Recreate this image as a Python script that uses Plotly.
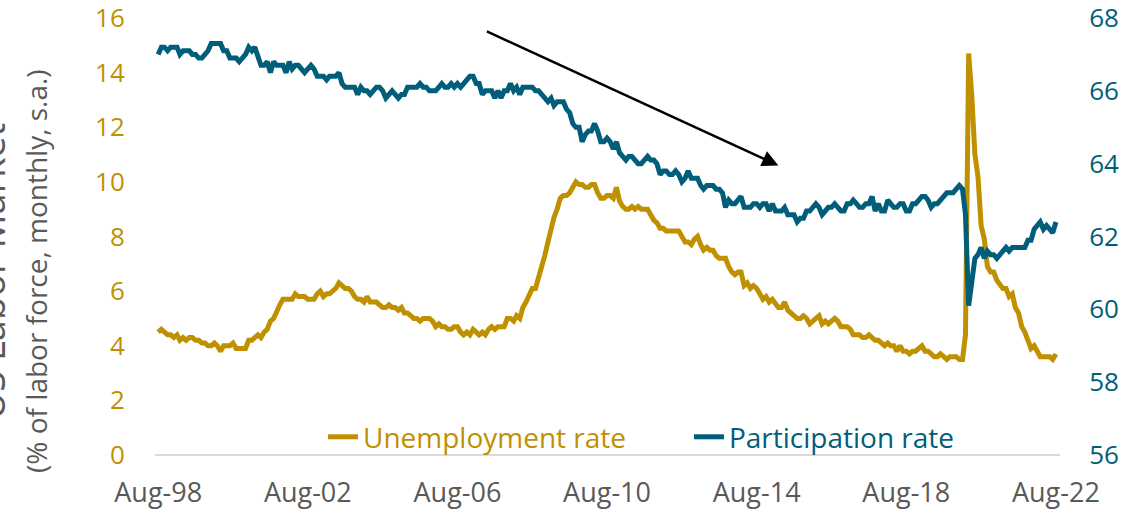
import pandas as pd
import plotly.graph_objects as go

# Monthly data, Aug-1998 .. Aug-2022
unemployment = [
    4.5, 4.6, 4.5, 4.4, 4.4,                                        # 1998 Aug-Dec
    4.3, 4.4, 4.2, 4.3, 4.2, 4.3, 4.3, 4.2, 4.2, 4.1, 4.1, 4.0,     # 1999
    4.0, 4.1, 4.0, 3.8, 4.0, 4.0, 4.0, 4.1, 3.9, 3.9, 3.9, 3.9,     # 2000
    4.2, 4.2, 4.3, 4.4, 4.3, 4.5, 4.6, 4.9, 5.0, 5.3, 5.5, 5.7,     # 2001
    5.7, 5.7, 5.7, 5.9, 5.8, 5.8, 5.8, 5.7, 5.7, 5.7, 5.9, 6.0,     # 2002
    5.8, 5.9, 5.9, 6.0, 6.1, 6.3, 6.2, 6.1, 6.1, 6.0, 5.8, 5.7,     # 2003
    5.7, 5.6, 5.8, 5.6, 5.6, 5.6, 5.5, 5.4, 5.4, 5.5, 5.4, 5.4,     # 2004
    5.3, 5.4, 5.2, 5.2, 5.1, 5.0, 5.0, 4.9, 5.0, 5.0, 5.0, 4.9,     # 2005
    4.7, 4.8, 4.7, 4.7, 4.6, 4.6, 4.7, 4.7, 4.5, 4.4, 4.5, 4.4,     # 2006
    4.6, 4.5, 4.4, 4.5, 4.4, 4.6, 4.7, 4.6, 4.7, 4.7, 4.7, 5.0,     # 2007
    5.0, 4.9, 5.1, 5.0, 5.4, 5.6, 5.8, 6.1, 6.1, 6.5, 6.8, 7.3,     # 2008
    7.8, 8.3, 8.7, 9.0, 9.4, 9.5, 9.5, 9.6, 9.8, 10.0, 9.9, 9.9,    # 2009
    9.8, 9.8, 9.9, 9.9, 9.6, 9.4, 9.4, 9.5, 9.5, 9.4, 9.8, 9.3,     # 2010
    9.1, 9.0, 9.0, 9.1, 9.0, 9.1, 9.0, 9.0, 9.0, 8.8, 8.6, 8.5,     # 2011
    8.3, 8.3, 8.2, 8.2, 8.2, 8.2, 8.2, 8.0, 7.8, 7.8, 7.7, 7.9,     # 2012
    8.0, 7.7, 7.5, 7.6, 7.5, 7.5, 7.3, 7.2, 7.2, 7.2, 6.9, 6.7,     # 2013
    6.6, 6.7, 6.7, 6.2, 6.3, 6.1, 6.2, 6.1, 5.9, 5.7, 5.8, 5.6,     # 2014
    5.7, 5.5, 5.4, 5.4, 5.6, 5.3, 5.2, 5.1, 5.0, 5.0, 5.1, 5.0,     # 2015
    4.8, 4.9, 5.0, 5.1, 4.8, 4.9, 4.8, 4.9, 5.0, 4.9, 4.7, 4.7,     # 2016
    4.7, 4.6, 4.4, 4.4, 4.4, 4.3, 4.3, 4.4, 4.3, 4.2, 4.2, 4.1,     # 2017
    4.0, 4.1, 4.0, 4.0, 3.8, 4.0, 3.8, 3.8, 3.7, 3.8, 3.8, 3.9,     # 2018
    4.0, 3.8, 3.8, 3.7, 3.6, 3.6, 3.7, 3.6, 3.5, 3.6, 3.6, 3.6,     # 2019
    3.5, 3.5, 4.4, 14.7, 13.2, 11.0, 10.2, 8.4, 7.9, 6.9, 6.7, 6.7, # 2020
    6.4, 6.2, 6.1, 6.1, 5.8, 5.9, 5.4, 5.2, 4.7, 4.5, 4.2, 3.9,     # 2021
    4.0, 3.8, 3.6, 3.6, 3.6, 3.6, 3.5, 3.7,                         # 2022 Jan-Aug
]

participation = [
    67.0, 67.2, 67.2, 67.1, 67.2,                                               # 1998
    67.2, 67.2, 67.0, 67.1, 67.1, 67.1, 67.0, 67.0, 66.9, 66.9, 67.0, 67.1,     # 1999
    67.3, 67.3, 67.3, 67.3, 67.1, 67.1, 66.9, 66.9, 66.9, 66.8, 66.9, 67.0,     # 2000
    67.2, 67.1, 67.2, 66.9, 66.7, 66.7, 66.8, 66.5, 66.8, 66.7, 66.7, 66.7,     # 2001
    66.5, 66.8, 66.6, 66.7, 66.7, 66.6, 66.5, 66.6, 66.7, 66.6, 66.4, 66.4,     # 2002
    66.4, 66.3, 66.4, 66.4, 66.4, 66.5, 66.2, 66.1, 66.1, 66.1, 66.1, 65.9,     # 2003
    66.1, 66.0, 66.0, 65.9, 66.0, 66.1, 66.1, 66.0, 65.8, 65.9, 66.0, 65.9,     # 2004
    65.8, 65.9, 65.9, 66.1, 66.1, 66.1, 66.1, 66.2, 66.1, 66.1, 66.0, 66.0,     # 2005
    66.0, 66.1, 66.2, 66.1, 66.1, 66.2, 66.1, 66.2, 66.1, 66.2, 66.3, 66.4,     # 2006
    66.4, 66.2, 66.2, 65.9, 66.0, 66.0, 66.0, 65.8, 66.0, 65.8, 66.0, 66.0,     # 2007
    66.2, 66.0, 66.1, 65.9, 66.1, 66.1, 66.1, 66.1, 66.0, 66.0, 65.9, 65.8,     # 2008
    65.7, 65.8, 65.6, 65.7, 65.7, 65.7, 65.5, 65.4, 65.1, 65.0, 65.0, 64.6,     # 2009
    64.8, 64.9, 64.9, 65.1, 64.9, 64.6, 64.6, 64.7, 64.6, 64.4, 64.6, 64.3,     # 2010
    64.2, 64.1, 64.2, 64.2, 64.1, 64.0, 64.0, 64.1, 64.2, 64.1, 64.1, 64.0,     # 2011
    63.7, 63.8, 63.8, 63.7, 63.7, 63.8, 63.7, 63.5, 63.6, 63.8, 63.6, 63.6,     # 2012
    63.6, 63.4, 63.3, 63.4, 63.4, 63.4, 63.3, 63.3, 63.2, 62.8, 63.0, 62.9,     # 2013
    62.9, 63.0, 63.1, 62.8, 62.8, 62.8, 62.9, 62.9, 62.8, 62.9, 62.9, 62.7,     # 2014
    62.9, 62.7, 62.7, 62.7, 62.8, 62.6, 62.6, 62.6, 62.4, 62.5, 62.5, 62.7,     # 2015
    62.7, 62.8, 62.9, 62.8, 62.6, 62.7, 62.8, 62.8, 62.9, 62.8, 62.7, 62.7,     # 2016
    62.9, 62.9, 63.0, 62.9, 62.8, 62.8, 62.9, 62.9, 63.1, 62.7, 62.9, 62.7,     # 2017
    62.7, 63.0, 62.9, 62.8, 62.8, 62.9, 62.9, 62.7, 62.7, 62.9, 62.9, 63.0,     # 2018
    63.1, 63.1, 63.0, 62.8, 62.9, 62.9, 63.0, 63.1, 63.2, 63.2, 63.2, 63.3,     # 2019
    63.4, 63.3, 62.6, 60.1, 60.7, 61.4, 61.5, 61.7, 61.4, 61.6, 61.5, 61.5,     # 2020
    61.4, 61.5, 61.6, 61.7, 61.6, 61.7, 61.7, 61.7, 61.7, 61.7, 61.9, 61.9,     # 2021
    62.2, 62.3, 62.4, 62.2, 62.3, 62.2, 62.1, 62.4,                             # 2022
]

months = pd.date_range("1998-08-01", periods=len(unemployment), freq="MS")

tick_dates = ["1998-08-01", "2002-08-01", "2006-08-01", "2010-08-01",
              "2014-08-01", "2018-08-01", "2022-08-01"]
tick_labels = ["Aug-98", "Aug-02", "Aug-06", "Aug-10", "Aug-14", "Aug-18", "Aug-22"]

GOLD = "#BF9000"
TEAL = "#005E7A"
GREY = "#595959"
FONT = "Open Sans"
CLEAR = "rgba(0,0,0,0)"

fig = go.Figure()
fig.add_trace(go.Scatter(
    x=months, y=unemployment, mode="lines",
    name=f"<span style='color:{GOLD}'>Unemployment rate</span>",
    line=dict(color=GOLD, width=5), yaxis="y"))
fig.add_trace(go.Scatter(
    x=months, y=participation, mode="lines",
    name=f"<span style='color:{TEAL}'>Participation rate</span>",
    line=dict(color=TEAL, width=5), yaxis="y2"))

fig.update_layout(
    width=1148, height=515,
    margin=dict(l=155, r=88, t=18, b=60, autoexpand=False),
    plot_bgcolor="white", paper_bgcolor="white",
    font=dict(family=FONT, size=25, color=GREY),
    showlegend=True,
    legend=dict(orientation="h", x=0.1856, y=0.041, xanchor="left", yanchor="middle",
                bgcolor=CLEAR, font=dict(size=28), entrywidth=321,
                tracegroupgap=0),
    xaxis=dict(
        type="date", automargin=False,
        range=["1998-07-01", "2022-09-10"],
        tickvals=tick_dates, ticktext=tick_labels,
        showgrid=False, zeroline=False, showline=False,
        ticks="outside", ticklen=14, tickcolor=CLEAR,
        tickfont=dict(size=27, color=GREY), ticklabeloverflow="allow",
    ),
    yaxis=dict(
        range=[0, 16], tick0=0, dtick=2, automargin=False,
        showgrid=False, zeroline=True, zerolinecolor="#D9D9D9", zerolinewidth=2,
        showline=False, ticks="outside", ticklen=24, tickcolor=CLEAR,
        tickfont=dict(size=26, color=GOLD), ticklabeloverflow="allow",
    ),
    yaxis2=dict(
        range=[56, 68], tick0=56, dtick=2, overlaying="y", side="right",
        automargin=False,
        showgrid=False, zeroline=False, showline=False,
        ticks="outside", ticklen=23, tickcolor=CLEAR,
        tickfont=dict(size=26, color=TEAL), ticklabeloverflow="allow",
    ),
    annotations=[
        dict(text="(% of labor force, monthly, s.a.)", textangle=-90,
             xref="paper", yref="paper", x=0, y=0.419, xanchor="center", yanchor="middle",
             xshift=-119, showarrow=False, font=dict(size=28, color=GREY)),
        dict(text="US Labor Market", textangle=-90,
             xref="paper", yref="paper", x=0, y=0.42, xanchor="center", yanchor="middle",
             xshift=-165, showarrow=False, font=dict(size=38, color=GREY)),
        dict(x="2015-03-01", y=63.95, xref="x", yref="y2",
             ax="2007-05-01", ay=67.65, axref="x", ayref="y2",
             showarrow=True, arrowhead=2, arrowsize=1.3, arrowwidth=2.5,
             arrowcolor="black", text=""),
    ],
)

fig.write_html("out.html", config={"displayModeBar": False},
               post_script="document.body.style.margin='0';document.body.style.overflow='hidden';")
